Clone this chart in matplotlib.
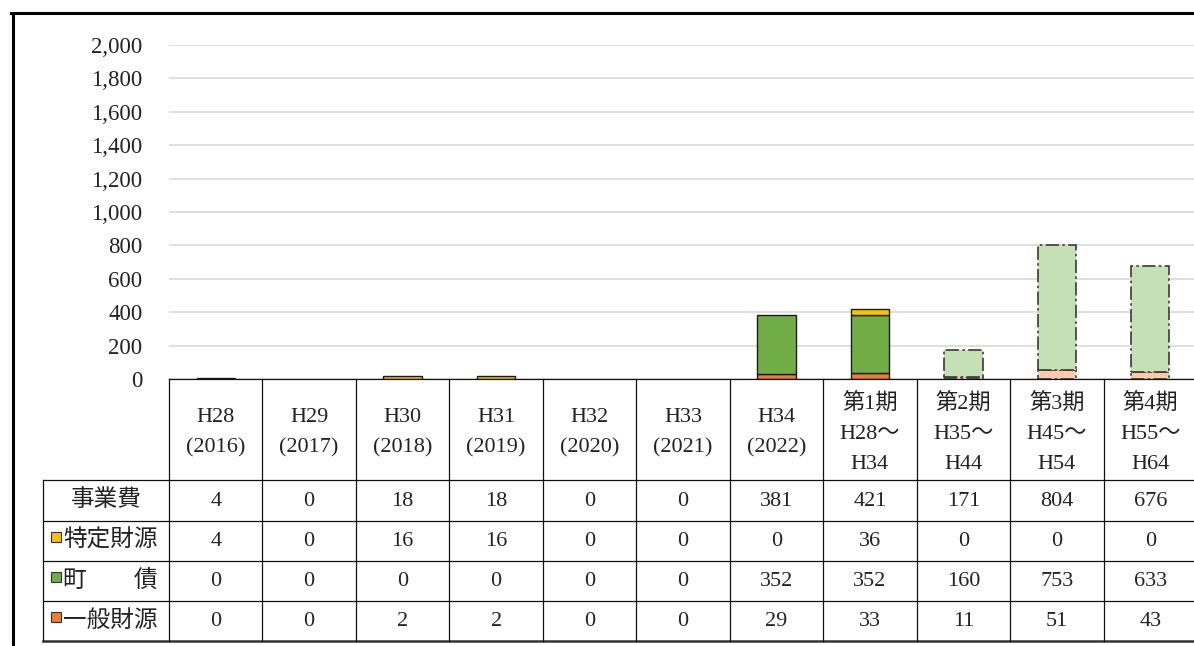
import matplotlib
matplotlib.use("Agg")
import matplotlib.pyplot as plt
from matplotlib.lines import Line2D
from matplotlib.patches import Rectangle
from matplotlib.ticker import StrMethodFormatter

plt.rcParams['font.family'] = ['Liberation Serif', 'Noto Sans CJK JP']

# data (百万円)
categories = ["H28\n(2016)", "H29\n(2017)", "H30\n(2018)", "H31\n(2019)",
              "H32\n(2020)", "H33\n(2021)", "H34\n(2022)",
              "第1期\nH28～\nH34", "第2期\nH35～\nH44",
              "第3期\nH45～\nH54", "第4期\nH55～\nH64"]
total = [4, 0, 18, 18, 0, 0, 381, 421, 171, 804, 676]
tokutei = [4, 0, 16, 16, 0, 0, 0, 36, 0, 0, 0]
chosai = [0, 0, 0, 0, 0, 0, 352, 352, 160, 753, 633]
ippan = [0, 0, 2, 2, 0, 0, 29, 33, 11, 51, 43]
row_labels = ["事業費", "特定財源", "町\u3000\u3000債", "一般財源"]
future_from = 8  # 第2期以降は計画値

W, H = 1194, 646
fig = plt.figure(figsize=(W / 100, H / 100), dpi=100)

# chart area
ax = fig.add_axes([169 / W, 1 - 379 / H, 1028 / W, 334 / H])
ax.set_xlim(-0.5, 10.5)
ax.set_ylim(0, 2000)
ax.set_yticks(range(0, 2001, 200))
ax.yaxis.set_major_formatter(StrMethodFormatter('{x:,.0f}'))
ax.tick_params(axis='y', length=0, pad=19, labelsize=16.5, labelcolor='#222222')
ax.set_xticks([])
ax.yaxis.grid(True, color='#D9D9D9', lw=1.2)
ax.set_axisbelow(True)
for s in ax.spines.values():
    s.set_visible(False)

bar_w = 0.41
series = [(ippan, '#ED7D31', '#F8CBAD'),
          (chosai, '#70AD47', '#C5E0B4'),
          (tokutei, '#FFC000', '#FFE699')]
bottom = [0] * len(total)
for vals, col, light in series:
    for i, v in enumerate(vals):
        if v <= 0:
            continue
        if i < future_from:
            ax.bar(i, v, bar_w, bottom=bottom[i], color=col,
                   edgecolor='#1a1a1a', lw=1.0, zorder=3)
        else:
            b = ax.bar(i, v, bar_w, bottom=bottom[i], color=light,
                       edgecolor='#3a3a3a', lw=1.2, zorder=3)
            b[0].set_linestyle((0, (8, 2, 1.5, 2)))
    bottom = [b + v for b, v in zip(bottom, vals)]

# data table below the chart
tax = fig.add_axes([169 / W, 1 - 641 / H, 1028 / W, 262 / H])
tax.set_xlim(-0.5, 10.5)
tax.set_ylim(262, 0)
tax.axis('off')

col_px = 1028 / 11
x_left = -0.5 - (169 - 43) / col_px
row_edges = [0, 101, 141.5, 182, 222, 262]
lc = '#111111'
lw = 0.9

tax.plot([-0.5, 10.5], [0, 0], color=lc, lw=lw, clip_on=False)
for y in row_edges[1:-1]:
    tax.plot([x_left, 10.5], [y, y], color=lc, lw=lw, clip_on=False)
tax.plot([x_left, 10.5], [262, 262], color='#333333', lw=1.8, clip_on=False)
for k in range(12):
    tax.plot([k - 0.5, k - 0.5], [0, 262], color=lc, lw=lw, clip_on=False)
tax.plot([x_left, x_left], [101, 262], color=lc, lw=lw, clip_on=False)

for i, c in enumerate(categories):
    tax.text(i, 54, c, ha='center', va='center', fontsize=16,
             linespacing=1.8, color='#222222')

rows = [total, tokutei, chosai, ippan]
for r, vals in enumerate(rows):
    yc = (row_edges[r + 1] + row_edges[r + 2]) / 2
    for i, v in enumerate(vals):
        tax.text(i, yc + 1, f"{v:,}", ha='center', va='center', fontsize=16,
                 color='#222222')

marker_cols = [None, '#FFC000', '#70AD47', '#ED7D31']
for r, lab in enumerate(row_labels):
    yc = (row_edges[r + 1] + row_edges[r + 2]) / 2
    if marker_cols[r] is None:
        tax.text((x_left - 0.5) / 2, yc, lab, ha='center', va='center',
                 fontsize=17, color='#222222', clip_on=False)
    else:
        sq = Rectangle((-0.5 - (169 - 51) / col_px, yc - 9), 10 / col_px, 10,
                       facecolor=marker_cols[r], edgecolor='#333333', lw=0.8,
                       clip_on=False)
        tax.add_patch(sq)
        tax.text(-0.5 - (169 - 63) / col_px, yc, lab, ha='left', va='center',
                 fontsize=17, color='#222222', clip_on=False)

# outer frame
fig.add_artist(Line2D([12.5 / W, 12.5 / W], [0, 1 - 12.5 / H], color='black',
                      lw=2.2, transform=fig.transFigure))
fig.add_artist(Line2D([11 / W, 1], [1 - 12.5 / H, 1 - 12.5 / H], color='black',
                      lw=2.2, transform=fig.transFigure))

fig.savefig('out.png', dpi=100)
